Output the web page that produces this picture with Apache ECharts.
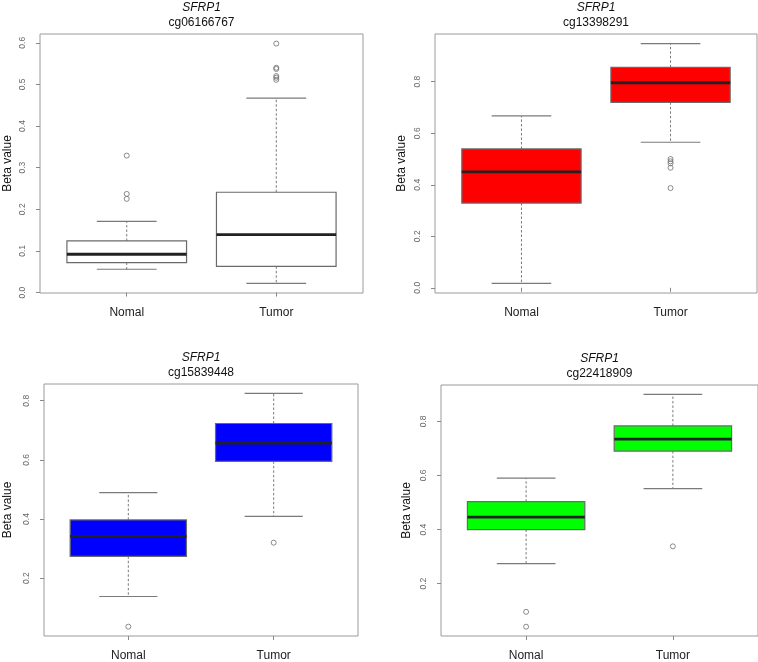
<!DOCTYPE html>
<html>
<head>
<meta charset="utf-8">
<script src="https://cdn.jsdelivr.net/npm/echarts@6/dist/echarts.min.js"></script>
<style>
html,body{margin:0;padding:0;background:#fff;}
#chart{width:758px;height:662px;}
</style>
</head>
<body>
<div id="chart"></div>
<script>
// ---------- data ----------
const gene = 'SFRP1';
const categories = ['Nomal', 'Tumor'];
const probes = ['cg06166767', 'cg13398291', 'cg15839448', 'cg22418909'];

// box stats: [lower whisker, Q1, median, Q3, upper whisker]
const p1Nomal = [0.056, 0.072, 0.092, 0.124, 0.171];
const p1Tumor = [0.022, 0.063, 0.139, 0.241, 0.467];
const p1NomalOut = [0.329, 0.237, 0.225];
const p1TumorOut = [0.598, 0.540, 0.537, 0.520, 0.516, 0.511];
const p1Ticks = [0.0, 0.1, 0.2, 0.3, 0.4, 0.5, 0.6];

const p2Nomal = [0.017, 0.329, 0.450, 0.539, 0.667];
const p2Tumor = [0.565, 0.720, 0.796, 0.856, 0.948];
const p2NomalOut = [];
const p2TumorOut = [0.500, 0.491, 0.483, 0.466, 0.387];
const p2Ticks = [0.0, 0.2, 0.4, 0.6, 0.8];

const p3Nomal = [0.138, 0.274, 0.341, 0.397, 0.489];
const p3Tumor = [0.409, 0.595, 0.657, 0.723, 0.825];
const p3NomalOut = [0.036];
const p3TumorOut = [0.320];
const p3Ticks = [0.2, 0.4, 0.6, 0.8];

const p4Nomal = [0.274, 0.400, 0.446, 0.503, 0.590];
const p4Tumor = [0.551, 0.690, 0.734, 0.783, 0.900];
const p4NomalOut = [0.096, 0.041];
const p4TumorOut = [0.338];
const p4Ticks = [0.2, 0.4, 0.6, 0.8];

const fills = ['#ffffff', '#ff0000', '#0000ff', '#00ff00'];

// ---------- layout ----------
const grids = [
  {left: 40, top: 34, width: 323, height: 259, nameGap: 26},
  {left: 435, top: 34, width: 322, height: 259, nameGap: 27},
  {left: 44, top: 384, width: 314, height: 253, nameGap: 30},
  {left: 441, top: 385, width: 317, height: 254, nameGap: 28}
];

const panels = [
  {nomal: p1Nomal, tumor: p1Tumor, nOut: p1NomalOut, tOut: p1TumorOut, ticks: p1Ticks},
  {nomal: p2Nomal, tumor: p2Tumor, nOut: p2NomalOut, tOut: p2TumorOut, ticks: p2Ticks},
  {nomal: p3Nomal, tumor: p3Tumor, nOut: p3NomalOut, tOut: p3TumorOut, ticks: p3Ticks},
  {nomal: p4Nomal, tumor: p4Tumor, nOut: p4NomalOut, tOut: p4TumorOut, ticks: p4Ticks}
];

const FONT = '"Liberation Sans", Arial, Helvetica, sans-serif';

function makeRender(fill) {
  return function (params, api) {
    const x = api.value(0);
    const lo = api.value(1), q1 = api.value(2), med = api.value(3), q3 = api.value(4), hi = api.value(5);
    const halfW = api.size([0.8, 0])[0] / 2;
    const capW = halfW / 2;
    const pLo = api.coord([x, lo]);
    const pQ1 = api.coord([x, q1]);
    const pMed = api.coord([x, med]);
    const pQ3 = api.coord([x, q3]);
    const pHi = api.coord([x, hi]);
    const cx = pMed[0];
    const dash = {stroke: '#7a7a7a', lineWidth: 1, lineDash: [2.5, 2]};
    const solid = {stroke: '#7a7a7a', lineWidth: 1.2};
    return {
      type: 'group',
      children: [
        {type: 'line', shape: {x1: cx, y1: pQ3[1], x2: cx, y2: pHi[1]}, style: dash},
        {type: 'line', shape: {x1: cx, y1: pQ1[1], x2: cx, y2: pLo[1]}, style: dash},
        {type: 'line', shape: {x1: cx - capW, y1: pHi[1], x2: cx + capW, y2: pHi[1]}, style: solid},
        {type: 'line', shape: {x1: cx - capW, y1: pLo[1], x2: cx + capW, y2: pLo[1]}, style: solid},
        {type: 'rect', shape: {x: cx - halfW, y: pQ3[1], width: 2 * halfW, height: pQ1[1] - pQ3[1]},
          style: {fill: fill, stroke: '#6a6a6a', lineWidth: 1.2}},
        {type: 'line', shape: {x1: cx - halfW, y1: pMed[1], x2: cx + halfW, y2: pMed[1]},
          style: {stroke: '#222', lineWidth: 2.8}}
      ]
    };
  };
}

const option = {
  animation: false,
  backgroundColor: '#fff',
  title: [],
  grid: [],
  xAxis: [],
  yAxis: [],
  series: []
};

panels.forEach(function (p, i) {
  const g = grids[i];
  option.grid.push({
    left: g.left, top: g.top, width: g.width, height: g.height,
    show: true, borderColor: '#9a9a9a', borderWidth: 1, backgroundColor: 'transparent'
  });
  const all = p.nomal.concat(p.tumor, p.nOut, p.tOut);
  const lo = Math.min.apply(null, all), hi = Math.max.apply(null, all);
  const pad = (hi - lo) * 0.04;
  option.xAxis.push({
    type: 'value', gridIndex: i, min: 0.42, max: 2.58,
    splitLine: {show: false},
    axisLine: {show: false},
    axisTick: {show: true, customValues: [1, 2], length: 4, lineStyle: {color: '#888'}},
    axisLabel: {
      customValues: [1, 2], margin: 14,
      formatter: function (v) { return categories[Math.round(v) - 1] || ''; },
      color: '#222', fontSize: 12, fontFamily: FONT
    }
  });
  option.yAxis.push({
    type: 'value', gridIndex: i, min: lo - pad, max: hi + pad,
    name: 'Beta value', nameLocation: 'middle', nameGap: g.nameGap,
    nameTextStyle: {color: '#111', fontSize: 12, fontFamily: FONT},
    splitLine: {show: false},
    axisLine: {show: false},
    axisTick: {show: true, customValues: p.ticks, length: 4, lineStyle: {color: '#888'}},
    axisLabel: {
      customValues: p.ticks, rotate: 90, margin: 13,
      formatter: function (v) { return v.toFixed(1); },
      color: '#666', fontSize: 8.5, fontFamily: FONT
    }
  });
  option.title.push({
    text: gene, subtext: probes[i],
    left: g.left + g.width / 2, top: g.top - 32, textAlign: 'center', itemGap: 3,
    padding: 0,
    textStyle: {fontStyle: 'italic', fontWeight: 'normal', fontSize: 12, color: '#111', fontFamily: FONT},
    subtextStyle: {fontSize: 12, color: '#111', fontFamily: FONT}
  });
  option.series.push({
    type: 'custom', xAxisIndex: i, yAxisIndex: i,
    renderItem: makeRender(fills[i]),
    encode: {x: 0, y: [1, 2, 3, 4, 5]},
    data: [[1].concat(p.nomal), [2].concat(p.tumor)],
    silent: true
  });
  option.series.push({
    type: 'scatter', xAxisIndex: i, yAxisIndex: i,
    symbol: 'circle', symbolSize: 5,
    itemStyle: {color: 'rgba(255,255,255,0)', borderColor: '#6e6e6e', borderWidth: 1},
    data: p.nOut.map(function (v) { return [1, v]; }).concat(p.tOut.map(function (v) { return [2, v]; })),
    silent: true, z: 5
  });
});

const chart = echarts.init(document.getElementById('chart'), null, {renderer: 'canvas'});
chart.setOption(option);
</script>
</body>
</html>
